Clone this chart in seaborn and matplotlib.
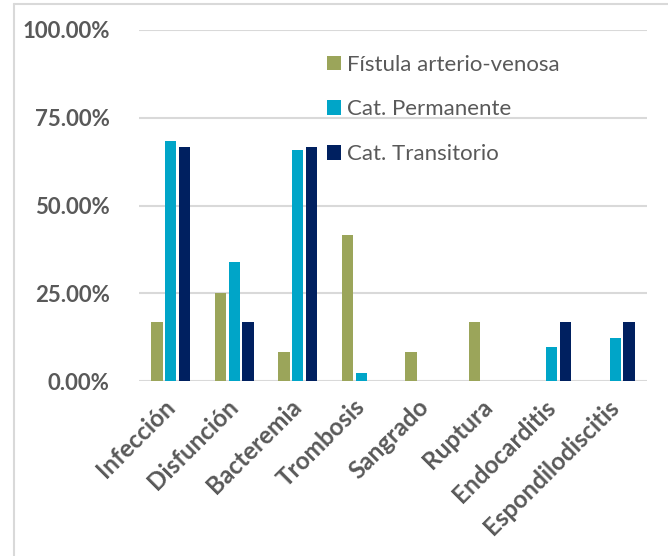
import matplotlib
matplotlib.use("Agg")
import matplotlib.pyplot as plt
import matplotlib.ticker as mticker
from matplotlib.lines import Line2D
import pandas as pd
import seaborn as sns

categorias = ['Infección', 'Disfunción', 'Bacteremia', 'Trombosis', 'Sangrado',
              'Ruptura', 'Endocarditis', 'Espondilodiscitis']
fistula = [16.67, 25.0, 8.33, 41.67, 8.33, 16.67, 0, 0]
permanente = [68.3, 34.0, 65.9, 2.4, 0, 0, 9.8, 12.2]
transitorio = [66.67, 16.67, 66.67, 0, 0, 0, 16.67, 16.67]
series = ['Fístula arterio-venosa', 'Cat. Permanente', 'Cat. Transitorio']
colores = ['#9BA55A', '#00A5C8', '#002060']

df = pd.DataFrame({'categoria': categorias,
                   series[0]: fistula,
                   series[1]: permanente,
                   series[2]: transitorio})
largo = df.melt(id_vars='categoria', var_name='serie', value_name='valor')
largo['valor'] = largo['valor'] / 100

sns.set_style('white')
plt.rcParams['font.family'] = ['Lato', 'DejaVu Sans']

fig = plt.figure(figsize=(6.68, 5.56), dpi=100)
ax = fig.add_axes([139/668, 1 - 381/556, 508/668, 351/556])

sns.barplot(data=largo, x='categoria', y='valor', hue='serie', hue_order=series,
            palette=colores, saturation=1, width=0.66, gap=0.18, linewidth=0, ax=ax)

ax.set_xlim(-0.5, len(categorias) - 0.5)
ax.set_ylim(0, 1)
ax.set_yticks([0, 0.25, 0.5, 0.75, 1.0])
ax.yaxis.set_major_formatter(mticker.FuncFormatter(lambda v, p: f'{v*100:.2f}%'))
ax.grid(axis='y', color='#D9D9D9', linewidth=1.5)
ax.set_axisbelow(True)
for s in ax.spines.values():
    s.set_visible(False)
ax.set_xlabel('')
ax.set_ylabel('')
ax.tick_params(axis='y', labelsize=16, colors='#595959', length=0, pad=21)
ax.tick_params(axis='x', labelsize=17.5, colors='#595959', length=0, pad=16)
for t in ax.get_yticklabels():
    t.set_fontweight('bold')
plt.setp(ax.get_xticklabels(), rotation=45, ha='right', va='center',
         rotation_mode='anchor', fontweight='bold')

leg = ax.legend(loc='upper left', bbox_to_anchor=(0.37, 0.93), frameon=False,
                fontsize=16, handlelength=0.62, handleheight=0.62, handletextpad=0.3,
                labelspacing=1.12, borderpad=0, borderaxespad=0)
for t in leg.get_texts():
    t.set_color('#595959')

# marco exterior gris
fig.add_artist(Line2D([14/668, 14/668], [0, 1 - 4/556], transform=fig.transFigure,
                      color='#D9D9D9', linewidth=1.5))
fig.add_artist(Line2D([14/668, 1], [1 - 4/556, 1 - 4/556], transform=fig.transFigure,
                      color='#D9D9D9', linewidth=1.5))

fig.savefig('out.png', dpi=100)
